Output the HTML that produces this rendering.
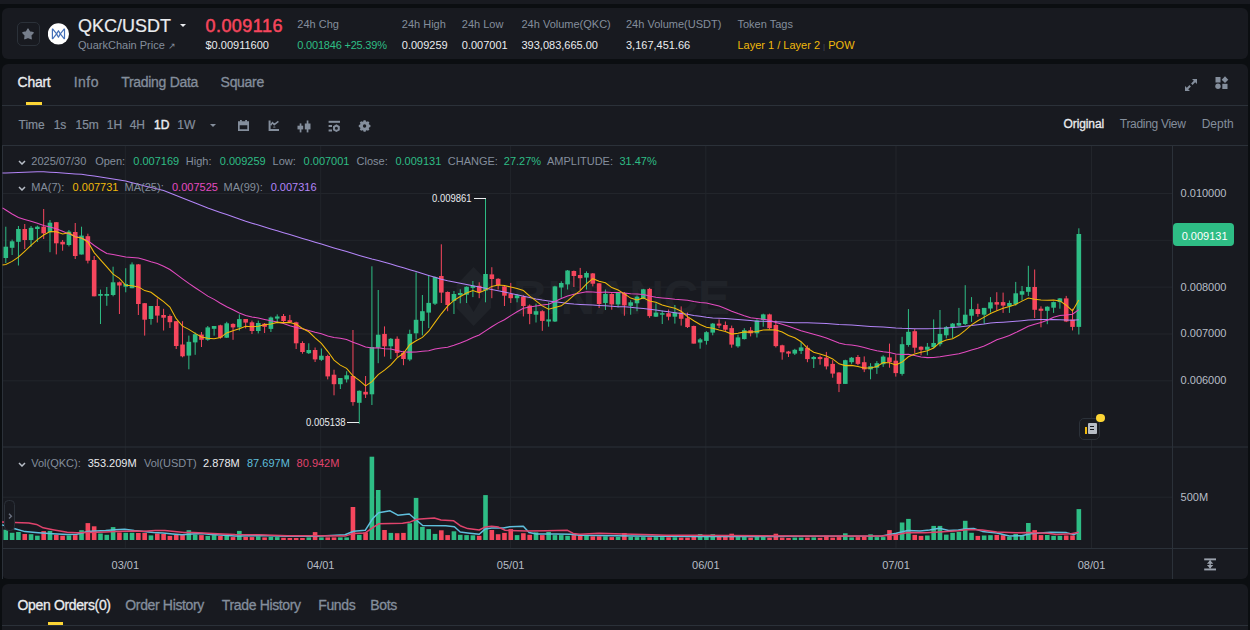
<!DOCTYPE html>
<html><head><meta charset="utf-8"><style>
html,body{margin:0;padding:0}
body{width:1250px;height:630px;overflow:hidden;position:relative;background:#0b0e11;font-family:"Liberation Sans",sans-serif}
.panel{position:absolute;background:#181a20;border-radius:6px}
.t{position:absolute;line-height:1;white-space:nowrap}
</style></head><body>
<div style="position:absolute;left:0;top:0;width:1250px;height:4px;background:#181a20"></div>
<div class="panel" style="left:2px;top:8px;width:1246px;height:51px"></div>
<div style="position:absolute;left:17px;top:22px;width:21px;height:22px;border:1px solid #2b3139;border-radius:5px"></div>
<svg style="position:absolute;left:21.3px;top:27px" width="14" height="14" viewBox="0 0 14 14"><polygon points="7.00,2.00 8.73,5.01 12.14,5.73 9.81,8.31 10.17,11.77 7.00,10.35 3.83,11.77 4.19,8.31 1.86,5.73 5.27,5.01" fill="#777f8c" stroke="#777f8c" stroke-width="1.3" stroke-linejoin="round"/></svg>
<svg style="position:absolute;left:48px;top:23px" width="21" height="22" viewBox="0 0 21 22"><circle cx="10.4" cy="10.9" r="10.6" fill="#fff"/><path d="M4.4 5.7V16.1 M16.5 5.7V16.1 M4.4 5.7L8.6 10.9L4.4 16.1 M16.5 5.7L12.3 10.9L16.5 16.1 M10.45 7.7L12.3 10.9L10.45 14.2L8.6 10.9z" stroke="#4470b8" stroke-width="1.2" fill="none" stroke-linejoin="round"/></svg>
<div class="t" style="left:78px;top:16.66px;font-size:18px;color:#eaecef;-webkit-text-stroke:0.2px #eaecef">QKC/USDT</div>
<div style="position:absolute;left:180px;top:24px;width:0;height:0;border-left:3.2px solid transparent;border-right:3.2px solid transparent;border-top:3.6px solid #eaecef"></div>
<div class="t" style="left:205.5px;top:16.66px;font-size:18px;color:#f6465d;-webkit-text-stroke:0.5px #f6465d;letter-spacing:0.45px">0.009116</div>
<div class="t" style="left:78px;top:39.87px;font-size:11px;color:#848e9c;">QuarkChain Price <span style="font-size:9px">&#8599;</span></div>
<div class="t" style="left:205.5px;top:39.87px;font-size:11px;color:#eaecef;">$0.00911600</div>
<div class="t" style="left:297.3px;top:18.57px;font-size:11px;color:#848e9c;">24h Chg</div>
<div class="t" style="left:297.3px;top:39.67px;font-size:11px;color:#2ebd85;"><span style="letter-spacing:-0.2px">0.001846 +25.39%</span></div>
<div class="t" style="left:401.8px;top:18.57px;font-size:11px;color:#848e9c;">24h High</div>
<div class="t" style="left:401.8px;top:39.67px;font-size:11px;color:#eaecef;">0.009259</div>
<div class="t" style="left:461.8px;top:18.57px;font-size:11px;color:#848e9c;">24h Low</div>
<div class="t" style="left:461.8px;top:39.67px;font-size:11px;color:#eaecef;">0.007001</div>
<div class="t" style="left:521.5px;top:18.57px;font-size:11px;color:#848e9c;">24h Volume(QKC)</div>
<div class="t" style="left:521.5px;top:39.67px;font-size:11px;color:#eaecef;">393,083,665.00</div>
<div class="t" style="left:626px;top:18.57px;font-size:11px;color:#848e9c;">24h Volume(USDT)</div>
<div class="t" style="left:626px;top:39.67px;font-size:11px;color:#eaecef;">3,167,451.66</div>
<div class="t" style="left:737.5px;top:18.57px;font-size:11px;color:#848e9c;">Token Tags</div>
<div class="t" style="left:737.5px;top:39.67px;font-size:11px;color:#f0b90b;">Layer 1 / Layer 2 <span style="color:#474d57;font-size:8px">|</span> POW</div>
<div class="panel" style="left:2px;top:64px;width:1246px;height:515px"></div>
<div class="t" style="left:17.6px;top:74.68px;font-size:14px;color:#eaecef;-webkit-text-stroke:0.3px #eaecef;letter-spacing:-0.3px">Chart</div>
<div class="t" style="left:73.7px;top:74.68px;font-size:14px;color:#848e9c;-webkit-text-stroke:0.3px #848e9c;letter-spacing:0.5px">Info</div>
<div class="t" style="left:121.2px;top:74.68px;font-size:14px;color:#848e9c;-webkit-text-stroke:0.3px #848e9c;letter-spacing:-0.3px">Trading Data</div>
<div class="t" style="left:220.6px;top:74.68px;font-size:14px;color:#848e9c;-webkit-text-stroke:0.3px #848e9c;letter-spacing:-0.3px">Square</div>
<div style="position:absolute;left:26px;top:102px;width:16px;height:3px;background:#fcd535"></div>
<div style="position:absolute;left:2px;top:105px;width:1246px;height:1px;background:#2b3139"></div>
<svg style="position:absolute;left:1184px;top:78px" width="14" height="14" viewBox="0 0 14 14"><path d="M8 1h5v5l-1.8-1.8-2.7 2.7-1.4-1.4 2.7-2.7z M6 13H1V8l1.8 1.8 2.7-2.7 1.4 1.4-2.7 2.7z" fill="#848e9c"/></svg>
<svg style="position:absolute;left:1215px;top:76px" width="14" height="14" viewBox="0 0 14 14"><rect x="0.5" y="1" width="5" height="5.5" fill="#848e9c"/><path d="M10 0.3l3.3 3.4-3.3 3.4-3.3-3.4z" fill="#848e9c"/><circle cx="3" cy="10.3" r="2.7" fill="#848e9c"/><rect x="7.3" y="7.8" width="5.2" height="5.2" fill="#848e9c"/></svg>
<div class="t" style="left:18.5px;top:119.44px;font-size:12px;color:#848e9c;-webkit-text-stroke:0.2px #848e9c">Time</div>
<div class="t" style="left:53.7px;top:119.44px;font-size:12px;color:#848e9c;-webkit-text-stroke:0.2px #848e9c">1s</div>
<div class="t" style="left:75.5px;top:119.44px;font-size:12px;color:#848e9c;-webkit-text-stroke:0.2px #848e9c">15m</div>
<div class="t" style="left:106.8px;top:119.44px;font-size:12px;color:#848e9c;-webkit-text-stroke:0.2px #848e9c">1H</div>
<div class="t" style="left:129.7px;top:119.44px;font-size:12px;color:#848e9c;-webkit-text-stroke:0.2px #848e9c">4H</div>
<div class="t" style="left:154px;top:119.44px;font-size:12px;color:#eaecef;-webkit-text-stroke:0.45px #eaecef">1D</div>
<div class="t" style="left:177.3px;top:119.44px;font-size:12px;color:#848e9c;-webkit-text-stroke:0.2px #848e9c">1W</div>
<div style="position:absolute;left:209.8px;top:124px;width:0;height:0;border-left:3.3px solid transparent;border-right:3.3px solid transparent;border-top:3.8px solid #848e9c"></div>

<svg style="position:absolute;left:238px;top:120px" width="11" height="11" viewBox="0 0 11 11" fill="#848e9c"><rect x="2" y="0" width="1.8" height="1.8"/><rect x="7.2" y="0" width="1.8" height="1.8"/><path fill-rule="evenodd" d="M0 1.2h11V11H0z M1.7 5.2v4.1h7.6V5.2z"/></svg>
<svg style="position:absolute;left:268px;top:120px" width="12" height="12" viewBox="0 0 12 12" fill="none" stroke="#848e9c"><path d="M1.6 0.6V10.1H11" stroke-width="2"/><path d="M2.6 5.2L4.5 2.6L6.2 4.6L10.4 1.3" stroke-width="1.5"/><ellipse cx="6.3" cy="7" rx="1.3" ry="0.6" fill="#848e9c" stroke="none"/></svg>
<svg style="position:absolute;left:297px;top:119.5px" width="14" height="13" viewBox="0 0 14 13" fill="#848e9c"><rect x="2.7" y="3.4" width="1.7" height="9"/><rect x="0.5" y="5.7" width="5.7" height="3.7"/><rect x="9.7" y="0.5" width="1.7" height="11.9"/><rect x="7.8" y="3.5" width="5.7" height="5.9"/></svg>
<svg style="position:absolute;left:328px;top:120px" width="13" height="13" viewBox="0 0 13 13" fill="#848e9c"><rect x="0.6" y="0.8" width="11.4" height="2"/><rect x="0.6" y="5" width="3.4" height="2"/><rect x="0.6" y="9.5" width="3.4" height="2"/><path fill-rule="evenodd" d="M8.40,12.10 L5.02,10.15 L5.02,6.25 L8.40,4.30 L11.78,6.25 L11.78,10.15z M9.9,8.2 a1.5,1.5 0 1 0 -3,0 a1.5,1.5 0 1 0 3,0z"/></svg>
<svg style="position:absolute;left:358px;top:120px" width="13" height="13" viewBox="0 0 13 13" fill="#848e9c"><path fill-rule="evenodd" d="M11.09,4.61 L12.41,5.00 L12.41,7.00 L11.09,7.39 L10.76,8.19 L11.42,9.41 L10.01,10.82 L8.79,10.16 L7.99,10.49 L7.60,11.81 L5.60,11.81 L5.21,10.49 L4.41,10.16 L3.19,10.82 L1.78,9.41 L2.44,8.19 L2.11,7.39 L0.79,7.00 L0.79,5.00 L2.11,4.61 L2.44,3.81 L1.78,2.59 L3.19,1.18 L4.41,1.84 L5.21,1.51 L5.60,0.19 L7.60,0.19 L7.99,1.51 L8.79,1.84 L10.01,1.18 L11.42,2.59 L10.76,3.81z M8.299999999999999,6.0 a1.7,1.7 0 1 0 -3.4,0 a1.7,1.7 0 1 0 3.4,0z"/></svg>

<div class="t" style="left:1063.5px;top:118.14px;font-size:12px;color:#eaecef;-webkit-text-stroke:0.3px #eaecef;letter-spacing:-0.1px">Original</div>
<div class="t" style="left:1119.8px;top:118.14px;font-size:12px;color:#848e9c;letter-spacing:-0.3px">Trading View</div>
<div class="t" style="left:1201.7px;top:118.14px;font-size:12px;color:#848e9c;">Depth</div>
<div style="position:absolute;left:2px;top:145px;width:1246px;height:1px;background:#2b3139"></div>
<svg style="position:absolute;left:0;top:0" width="1250" height="630" viewBox="0 0 1250 630"><rect x="3" y="193.0" width="1170" height="1" fill="#22252b"/><rect x="3" y="239.8" width="1170" height="1" fill="#22252b"/><rect x="3" y="286.6" width="1170" height="1" fill="#22252b"/><rect x="3" y="333.5" width="1170" height="1" fill="#22252b"/><rect x="3" y="380.3" width="1170" height="1" fill="#22252b"/><rect x="3" y="496.7" width="1170" height="1" fill="#22252b"/><rect x="124.8" y="146" width="1" height="402" fill="#22252b"/><rect x="320.2" y="146" width="1" height="402" fill="#22252b"/><rect x="510.1" y="146" width="1" height="402" fill="#22252b"/><rect x="705.3" y="146" width="1" height="402" fill="#22252b"/><rect x="895.5" y="146" width="1" height="402" fill="#22252b"/><rect x="1091.0" y="146" width="1" height="402" fill="#22252b"/><g fill="#202329"><path d="M473.6 267 L491 285 V308 L473.6 326 L456.5 308 V285z M473.6 281 L483 296.5 L473.6 312 L464.2 296.5z" fill-rule="evenodd"/><text x="513" y="314" font-family="Liberation Sans" font-weight="bold" font-size="48" textLength="217">BINANCE</text></g><rect x="2" y="145" width="1" height="434" fill="#2b3139"/><rect x="1172" y="146" width="1" height="433" fill="#2b3139"/><rect x="3" y="446.5" width="1245" height="1" fill="#2b3139"/><rect x="3" y="548" width="1245" height="1" fill="#2b3139"/><rect x="5.30" y="226.7" width="1" height="36.3" fill="#2ebd85"/>
<rect x="3.50" y="246.7" width="4.6" height="11.3" fill="#2ebd85"/>
<rect x="11.61" y="239.6" width="1" height="15.4" fill="#2ebd85"/>
<rect x="9.81" y="241.3" width="4.6" height="6.5" fill="#2ebd85"/>
<rect x="17.92" y="226.0" width="1" height="39.5" fill="#2ebd85"/>
<rect x="16.12" y="229.0" width="4.6" height="12.8" fill="#2ebd85"/>
<rect x="24.24" y="224.0" width="1" height="25.0" fill="#f6465d"/>
<rect x="22.44" y="229.0" width="4.6" height="11.0" fill="#f6465d"/>
<rect x="30.55" y="226.0" width="1" height="20.7" fill="#2ebd85"/>
<rect x="28.75" y="227.8" width="4.6" height="12.2" fill="#2ebd85"/>
<rect x="36.86" y="225.6" width="1" height="16.4" fill="#2ebd85"/>
<rect x="35.06" y="226.7" width="4.6" height="2.3" fill="#2ebd85"/>
<rect x="43.17" y="209.0" width="1" height="30.0" fill="#f6465d"/>
<rect x="41.37" y="226.7" width="4.6" height="6.6" fill="#f6465d"/>
<rect x="49.48" y="220.0" width="1" height="32.2" fill="#2ebd85"/>
<rect x="47.68" y="222.7" width="4.6" height="9.5" fill="#2ebd85"/>
<rect x="55.80" y="222.0" width="1" height="32.4" fill="#f6465d"/>
<rect x="54.00" y="222.2" width="4.6" height="21.1" fill="#f6465d"/>
<rect x="62.11" y="240.0" width="1" height="10.7" fill="#f6465d"/>
<rect x="60.31" y="241.8" width="4.6" height="2.6" fill="#f6465d"/>
<rect x="68.42" y="230.0" width="1" height="16.4" fill="#2ebd85"/>
<rect x="66.62" y="231.6" width="4.6" height="13.4" fill="#2ebd85"/>
<rect x="74.73" y="223.0" width="1" height="36.0" fill="#f6465d"/>
<rect x="72.93" y="232.0" width="4.6" height="24.0" fill="#f6465d"/>
<rect x="81.04" y="226.7" width="1" height="27.8" fill="#2ebd85"/>
<rect x="79.24" y="235.6" width="4.6" height="18.9" fill="#2ebd85"/>
<rect x="87.36" y="233.7" width="1" height="29.7" fill="#f6465d"/>
<rect x="85.56" y="236.2" width="4.6" height="24.5" fill="#f6465d"/>
<rect x="93.67" y="256.0" width="1" height="40.3" fill="#f6465d"/>
<rect x="91.87" y="260.0" width="4.6" height="36.3" fill="#f6465d"/>
<rect x="99.98" y="289.6" width="1" height="34.4" fill="#2ebd85"/>
<rect x="98.18" y="294.0" width="4.6" height="1.8" fill="#2ebd85"/>
<rect x="106.29" y="287.0" width="1" height="18.8" fill="#2ebd85"/>
<rect x="104.49" y="294.0" width="4.6" height="1.8" fill="#2ebd85"/>
<rect x="112.60" y="266.7" width="1" height="29.6" fill="#2ebd85"/>
<rect x="110.80" y="282.3" width="4.6" height="12.7" fill="#2ebd85"/>
<rect x="118.92" y="281.5" width="1" height="32.5" fill="#f6465d"/>
<rect x="117.12" y="282.3" width="4.6" height="3.2" fill="#f6465d"/>
<rect x="125.23" y="268.2" width="1" height="24.1" fill="#2ebd85"/>
<rect x="123.43" y="284.0" width="4.6" height="2.7" fill="#2ebd85"/>
<rect x="131.54" y="262.4" width="1" height="25.8" fill="#2ebd85"/>
<rect x="129.74" y="264.4" width="4.6" height="23.8" fill="#2ebd85"/>
<rect x="137.85" y="264.0" width="1" height="51.0" fill="#f6465d"/>
<rect x="136.05" y="264.4" width="4.6" height="39.6" fill="#f6465d"/>
<rect x="144.16" y="303.0" width="1" height="32.6" fill="#f6465d"/>
<rect x="142.36" y="303.2" width="4.6" height="16.5" fill="#f6465d"/>
<rect x="150.48" y="306.0" width="1" height="18.7" fill="#2ebd85"/>
<rect x="148.68" y="306.0" width="4.6" height="13.0" fill="#2ebd85"/>
<rect x="156.79" y="298.5" width="1" height="24.1" fill="#f6465d"/>
<rect x="154.99" y="306.0" width="4.6" height="9.6" fill="#f6465d"/>
<rect x="163.10" y="308.8" width="1" height="21.7" fill="#f6465d"/>
<rect x="161.30" y="315.0" width="4.6" height="2.7" fill="#f6465d"/>
<rect x="169.41" y="314.4" width="1" height="13.6" fill="#f6465d"/>
<rect x="167.61" y="316.0" width="4.6" height="6.2" fill="#f6465d"/>
<rect x="175.72" y="321.0" width="1" height="28.0" fill="#f6465d"/>
<rect x="173.92" y="321.2" width="4.6" height="24.8" fill="#f6465d"/>
<rect x="182.04" y="321.2" width="1" height="36.1" fill="#f6465d"/>
<rect x="180.24" y="344.5" width="4.6" height="11.8" fill="#f6465d"/>
<rect x="188.35" y="335.6" width="1" height="33.7" fill="#2ebd85"/>
<rect x="186.55" y="341.8" width="4.6" height="13.8" fill="#2ebd85"/>
<rect x="194.66" y="332.5" width="1" height="22.3" fill="#2ebd85"/>
<rect x="192.86" y="334.2" width="4.6" height="8.2" fill="#2ebd85"/>
<rect x="200.97" y="332.0" width="1" height="15.0" fill="#f6465d"/>
<rect x="199.17" y="334.6" width="4.6" height="5.2" fill="#f6465d"/>
<rect x="207.28" y="326.0" width="1" height="14.8" fill="#2ebd85"/>
<rect x="205.48" y="327.4" width="4.6" height="12.4" fill="#2ebd85"/>
<rect x="213.60" y="326.0" width="1" height="9.6" fill="#2ebd85"/>
<rect x="211.80" y="326.0" width="4.6" height="2.8" fill="#2ebd85"/>
<rect x="219.91" y="324.7" width="1" height="14.0" fill="#f6465d"/>
<rect x="218.11" y="325.3" width="4.6" height="12.4" fill="#f6465d"/>
<rect x="226.22" y="321.8" width="1" height="16.2" fill="#2ebd85"/>
<rect x="224.42" y="323.3" width="4.6" height="14.4" fill="#2ebd85"/>
<rect x="232.53" y="323.3" width="1" height="16.5" fill="#f6465d"/>
<rect x="230.73" y="323.9" width="4.6" height="3.5" fill="#f6465d"/>
<rect x="238.84" y="314.4" width="1" height="16.1" fill="#2ebd85"/>
<rect x="237.04" y="319.1" width="4.6" height="8.3" fill="#2ebd85"/>
<rect x="245.16" y="319.0" width="1" height="9.4" fill="#f6465d"/>
<rect x="243.36" y="319.0" width="4.6" height="3.6" fill="#f6465d"/>
<rect x="251.47" y="320.6" width="1" height="13.4" fill="#f6465d"/>
<rect x="249.67" y="322.3" width="4.6" height="8.7" fill="#f6465d"/>
<rect x="257.78" y="320.6" width="1" height="12.8" fill="#2ebd85"/>
<rect x="255.98" y="323.0" width="4.6" height="8.0" fill="#2ebd85"/>
<rect x="264.09" y="323.0" width="1" height="10.0" fill="#f6465d"/>
<rect x="262.29" y="323.7" width="4.6" height="3.1" fill="#f6465d"/>
<rect x="270.40" y="316.5" width="1" height="15.5" fill="#2ebd85"/>
<rect x="268.60" y="317.5" width="4.6" height="11.4" fill="#2ebd85"/>
<rect x="276.72" y="314.4" width="1" height="8.7" fill="#2ebd85"/>
<rect x="274.92" y="316.5" width="4.6" height="2.1" fill="#2ebd85"/>
<rect x="283.03" y="314.0" width="1" height="8.7" fill="#f6465d"/>
<rect x="281.23" y="316.0" width="4.6" height="5.0" fill="#f6465d"/>
<rect x="289.34" y="314.9" width="1" height="7.4" fill="#f6465d"/>
<rect x="287.54" y="320.2" width="4.6" height="2.1" fill="#f6465d"/>
<rect x="295.65" y="321.7" width="1" height="27.3" fill="#f6465d"/>
<rect x="293.85" y="322.3" width="4.6" height="21.0" fill="#f6465d"/>
<rect x="301.96" y="341.3" width="1" height="12.4" fill="#f6465d"/>
<rect x="300.16" y="343.0" width="4.6" height="9.0" fill="#f6465d"/>
<rect x="308.28" y="343.3" width="1" height="10.7" fill="#2ebd85"/>
<rect x="306.48" y="350.0" width="4.6" height="3.2" fill="#2ebd85"/>
<rect x="314.59" y="347.5" width="1" height="14.5" fill="#f6465d"/>
<rect x="312.79" y="350.0" width="4.6" height="9.4" fill="#f6465d"/>
<rect x="320.90" y="348.5" width="1" height="12.4" fill="#2ebd85"/>
<rect x="319.10" y="355.7" width="4.6" height="4.1" fill="#2ebd85"/>
<rect x="327.21" y="354.7" width="1" height="24.7" fill="#f6465d"/>
<rect x="325.41" y="356.0" width="4.6" height="20.4" fill="#f6465d"/>
<rect x="333.52" y="369.7" width="1" height="25.6" fill="#f6465d"/>
<rect x="331.72" y="374.7" width="4.6" height="9.5" fill="#f6465d"/>
<rect x="339.84" y="378.0" width="1" height="11.0" fill="#2ebd85"/>
<rect x="338.04" y="378.0" width="4.6" height="6.2" fill="#2ebd85"/>
<rect x="346.15" y="371.2" width="1" height="11.3" fill="#2ebd85"/>
<rect x="344.35" y="375.3" width="4.6" height="4.1" fill="#2ebd85"/>
<rect x="352.46" y="330.0" width="1" height="75.7" fill="#f6465d"/>
<rect x="350.66" y="376.0" width="4.6" height="26.1" fill="#f6465d"/>
<rect x="358.77" y="390.4" width="1" height="33.4" fill="#2ebd85"/>
<rect x="356.97" y="390.8" width="4.6" height="12.0" fill="#2ebd85"/>
<rect x="365.08" y="376.0" width="1" height="22.0" fill="#f6465d"/>
<rect x="363.28" y="391.8" width="4.6" height="2.7" fill="#f6465d"/>
<rect x="371.40" y="266.3" width="1" height="138.7" fill="#2ebd85"/>
<rect x="369.60" y="347.0" width="4.6" height="47.3" fill="#2ebd85"/>
<rect x="377.71" y="290.0" width="1" height="73.2" fill="#2ebd85"/>
<rect x="375.91" y="334.7" width="4.6" height="13.0" fill="#2ebd85"/>
<rect x="384.02" y="326.4" width="1" height="30.2" fill="#f6465d"/>
<rect x="382.22" y="333.9" width="4.6" height="12.4" fill="#f6465d"/>
<rect x="390.33" y="338.0" width="1" height="21.0" fill="#2ebd85"/>
<rect x="388.53" y="338.8" width="4.6" height="7.5" fill="#2ebd85"/>
<rect x="396.64" y="336.4" width="1" height="20.6" fill="#f6465d"/>
<rect x="394.84" y="338.8" width="4.6" height="14.1" fill="#f6465d"/>
<rect x="402.96" y="350.8" width="1" height="14.4" fill="#f6465d"/>
<rect x="401.16" y="352.9" width="4.6" height="6.1" fill="#f6465d"/>
<rect x="409.27" y="329.7" width="1" height="31.4" fill="#2ebd85"/>
<rect x="407.47" y="333.9" width="4.6" height="25.6" fill="#2ebd85"/>
<rect x="415.58" y="272.4" width="1" height="67.0" fill="#2ebd85"/>
<rect x="413.78" y="319.8" width="4.6" height="13.5" fill="#2ebd85"/>
<rect x="421.89" y="295.0" width="1" height="40.3" fill="#2ebd85"/>
<rect x="420.09" y="311.2" width="4.6" height="9.7" fill="#2ebd85"/>
<rect x="428.20" y="275.5" width="1" height="52.6" fill="#2ebd85"/>
<rect x="426.40" y="302.9" width="4.6" height="9.7" fill="#2ebd85"/>
<rect x="434.52" y="276.5" width="1" height="28.5" fill="#2ebd85"/>
<rect x="432.72" y="277.0" width="4.6" height="26.7" fill="#2ebd85"/>
<rect x="440.83" y="244.3" width="1" height="58.7" fill="#f6465d"/>
<rect x="439.03" y="276.0" width="4.6" height="16.6" fill="#f6465d"/>
<rect x="447.14" y="291.4" width="1" height="19.8" fill="#f6465d"/>
<rect x="445.34" y="292.0" width="4.6" height="13.0" fill="#f6465d"/>
<rect x="453.45" y="291.0" width="1" height="23.0" fill="#2ebd85"/>
<rect x="451.65" y="294.0" width="4.6" height="6.9" fill="#2ebd85"/>
<rect x="459.76" y="289.3" width="1" height="14.0" fill="#2ebd85"/>
<rect x="457.96" y="293.0" width="4.6" height="2.0" fill="#2ebd85"/>
<rect x="466.08" y="286.4" width="1" height="16.6" fill="#2ebd85"/>
<rect x="464.28" y="286.8" width="4.6" height="7.9" fill="#2ebd85"/>
<rect x="472.39" y="281.0" width="1" height="16.1" fill="#2ebd85"/>
<rect x="470.59" y="285.8" width="4.6" height="2.1" fill="#2ebd85"/>
<rect x="478.70" y="282.3" width="1" height="15.9" fill="#f6465d"/>
<rect x="476.90" y="285.8" width="4.6" height="6.2" fill="#f6465d"/>
<rect x="485.01" y="199.0" width="1" height="103.3" fill="#2ebd85"/>
<rect x="483.21" y="274.0" width="4.6" height="16.5" fill="#2ebd85"/>
<rect x="491.32" y="267.2" width="1" height="31.0" fill="#f6465d"/>
<rect x="489.52" y="274.4" width="4.6" height="4.6" fill="#f6465d"/>
<rect x="497.64" y="278.2" width="1" height="11.3" fill="#f6465d"/>
<rect x="495.84" y="278.8" width="4.6" height="6.2" fill="#f6465d"/>
<rect x="503.95" y="285.8" width="1" height="20.2" fill="#f6465d"/>
<rect x="502.15" y="286.4" width="4.6" height="9.3" fill="#f6465d"/>
<rect x="510.26" y="282.9" width="1" height="20.1" fill="#f6465d"/>
<rect x="508.46" y="294.0" width="4.6" height="4.2" fill="#f6465d"/>
<rect x="516.57" y="294.0" width="1" height="8.3" fill="#2ebd85"/>
<rect x="514.77" y="295.3" width="4.6" height="2.9" fill="#2ebd85"/>
<rect x="522.88" y="295.3" width="1" height="21.1" fill="#f6465d"/>
<rect x="521.08" y="296.7" width="4.6" height="9.3" fill="#f6465d"/>
<rect x="529.20" y="304.4" width="1" height="19.8" fill="#f6465d"/>
<rect x="527.40" y="305.6" width="4.6" height="8.3" fill="#f6465d"/>
<rect x="535.51" y="303.6" width="1" height="18.9" fill="#2ebd85"/>
<rect x="533.71" y="311.2" width="4.6" height="3.5" fill="#2ebd85"/>
<rect x="541.82" y="310.2" width="1" height="20.6" fill="#f6465d"/>
<rect x="540.02" y="311.2" width="4.6" height="9.7" fill="#f6465d"/>
<rect x="548.13" y="302.3" width="1" height="24.4" fill="#2ebd85"/>
<rect x="546.33" y="319.4" width="4.6" height="2.1" fill="#2ebd85"/>
<rect x="554.44" y="285.8" width="1" height="36.2" fill="#2ebd85"/>
<rect x="552.64" y="286.4" width="4.6" height="35.1" fill="#2ebd85"/>
<rect x="560.76" y="281.3" width="1" height="16.5" fill="#2ebd85"/>
<rect x="558.96" y="283.0" width="4.6" height="4.5" fill="#2ebd85"/>
<rect x="567.07" y="270.0" width="1" height="19.5" fill="#2ebd85"/>
<rect x="565.27" y="270.5" width="4.6" height="13.9" fill="#2ebd85"/>
<rect x="573.38" y="270.5" width="1" height="16.5" fill="#f6465d"/>
<rect x="571.58" y="271.0" width="4.6" height="5.0" fill="#f6465d"/>
<rect x="579.69" y="267.9" width="1" height="22.7" fill="#f6465d"/>
<rect x="577.89" y="275.0" width="4.6" height="3.2" fill="#f6465d"/>
<rect x="586.00" y="271.4" width="1" height="18.1" fill="#2ebd85"/>
<rect x="584.20" y="273.0" width="4.6" height="4.6" fill="#2ebd85"/>
<rect x="592.32" y="273.0" width="1" height="13.4" fill="#f6465d"/>
<rect x="590.52" y="273.4" width="4.6" height="10.3" fill="#f6465d"/>
<rect x="598.63" y="282.9" width="1" height="25.1" fill="#f6465d"/>
<rect x="596.83" y="283.3" width="4.6" height="20.7" fill="#f6465d"/>
<rect x="604.94" y="289.5" width="1" height="20.5" fill="#2ebd85"/>
<rect x="603.14" y="294.0" width="4.6" height="9.0" fill="#2ebd85"/>
<rect x="611.25" y="293.2" width="1" height="16.5" fill="#f6465d"/>
<rect x="609.45" y="294.0" width="4.6" height="10.4" fill="#f6465d"/>
<rect x="617.56" y="292.0" width="1" height="15.5" fill="#2ebd85"/>
<rect x="615.76" y="293.0" width="4.6" height="11.4" fill="#2ebd85"/>
<rect x="623.88" y="292.0" width="1" height="23.7" fill="#f6465d"/>
<rect x="622.08" y="293.0" width="4.6" height="12.4" fill="#f6465d"/>
<rect x="630.19" y="300.2" width="1" height="14.5" fill="#2ebd85"/>
<rect x="628.39" y="302.3" width="4.6" height="3.5" fill="#2ebd85"/>
<rect x="636.50" y="295.5" width="1" height="15.7" fill="#2ebd85"/>
<rect x="634.70" y="296.7" width="4.6" height="6.6" fill="#2ebd85"/>
<rect x="642.81" y="288.9" width="1" height="10.3" fill="#2ebd85"/>
<rect x="641.01" y="289.3" width="4.6" height="8.9" fill="#2ebd85"/>
<rect x="649.12" y="287.9" width="1" height="29.9" fill="#f6465d"/>
<rect x="647.32" y="288.9" width="4.6" height="27.2" fill="#f6465d"/>
<rect x="655.44" y="303.3" width="1" height="13.7" fill="#2ebd85"/>
<rect x="653.64" y="312.6" width="4.6" height="4.1" fill="#2ebd85"/>
<rect x="661.75" y="310.6" width="1" height="13.4" fill="#2ebd85"/>
<rect x="659.95" y="313.2" width="4.6" height="1.5" fill="#2ebd85"/>
<rect x="668.06" y="309.5" width="1" height="10.8" fill="#f6465d"/>
<rect x="666.26" y="313.2" width="4.6" height="3.5" fill="#f6465d"/>
<rect x="674.37" y="305.0" width="1" height="18.6" fill="#2ebd85"/>
<rect x="672.57" y="312.6" width="4.6" height="4.1" fill="#2ebd85"/>
<rect x="680.68" y="306.4" width="1" height="19.2" fill="#f6465d"/>
<rect x="678.88" y="312.6" width="4.6" height="6.2" fill="#f6465d"/>
<rect x="687.00" y="312.6" width="1" height="15.4" fill="#f6465d"/>
<rect x="685.20" y="318.2" width="4.6" height="8.9" fill="#f6465d"/>
<rect x="693.31" y="325.6" width="1" height="18.0" fill="#f6465d"/>
<rect x="691.51" y="326.0" width="4.6" height="17.6" fill="#f6465d"/>
<rect x="699.62" y="338.0" width="1" height="10.7" fill="#2ebd85"/>
<rect x="697.82" y="339.4" width="4.6" height="3.1" fill="#2ebd85"/>
<rect x="705.93" y="331.2" width="1" height="13.4" fill="#2ebd85"/>
<rect x="704.13" y="332.2" width="4.6" height="8.7" fill="#2ebd85"/>
<rect x="712.24" y="323.0" width="1" height="12.3" fill="#2ebd85"/>
<rect x="710.44" y="323.6" width="4.6" height="9.0" fill="#2ebd85"/>
<rect x="718.56" y="319.4" width="1" height="8.6" fill="#f6465d"/>
<rect x="716.76" y="323.6" width="4.6" height="2.0" fill="#f6465d"/>
<rect x="724.87" y="321.5" width="1" height="9.7" fill="#f6465d"/>
<rect x="723.07" y="325.0" width="4.6" height="4.7" fill="#f6465d"/>
<rect x="731.18" y="325.6" width="1" height="22.1" fill="#f6465d"/>
<rect x="729.38" y="328.1" width="4.6" height="16.5" fill="#f6465d"/>
<rect x="737.49" y="334.7" width="1" height="13.0" fill="#2ebd85"/>
<rect x="735.69" y="337.4" width="4.6" height="8.9" fill="#2ebd85"/>
<rect x="743.80" y="328.2" width="1" height="11.3" fill="#2ebd85"/>
<rect x="742.00" y="330.2" width="4.6" height="8.9" fill="#2ebd85"/>
<rect x="750.12" y="327.1" width="1" height="9.3" fill="#f6465d"/>
<rect x="748.32" y="330.2" width="4.6" height="3.1" fill="#f6465d"/>
<rect x="756.43" y="319.3" width="1" height="18.2" fill="#2ebd85"/>
<rect x="754.63" y="320.5" width="4.6" height="12.8" fill="#2ebd85"/>
<rect x="762.74" y="313.7" width="1" height="13.0" fill="#2ebd85"/>
<rect x="760.94" y="314.4" width="4.6" height="5.5" fill="#2ebd85"/>
<rect x="769.05" y="313.7" width="1" height="15.5" fill="#f6465d"/>
<rect x="767.25" y="314.4" width="4.6" height="13.8" fill="#f6465d"/>
<rect x="775.36" y="320.5" width="1" height="26.9" fill="#f6465d"/>
<rect x="773.56" y="325.0" width="4.6" height="21.1" fill="#f6465d"/>
<rect x="781.68" y="344.7" width="1" height="15.0" fill="#f6465d"/>
<rect x="779.88" y="345.3" width="4.6" height="7.0" fill="#f6465d"/>
<rect x="787.99" y="350.9" width="1" height="6.1" fill="#f6465d"/>
<rect x="786.19" y="351.5" width="4.6" height="2.1" fill="#f6465d"/>
<rect x="794.30" y="348.8" width="1" height="6.2" fill="#2ebd85"/>
<rect x="792.50" y="349.8" width="4.6" height="3.8" fill="#2ebd85"/>
<rect x="800.61" y="342.0" width="1" height="12.0" fill="#2ebd85"/>
<rect x="798.81" y="347.4" width="4.6" height="3.5" fill="#2ebd85"/>
<rect x="806.92" y="345.3" width="1" height="16.9" fill="#f6465d"/>
<rect x="805.12" y="347.8" width="4.6" height="11.3" fill="#f6465d"/>
<rect x="813.24" y="356.0" width="1" height="12.0" fill="#2ebd85"/>
<rect x="811.44" y="357.0" width="4.6" height="2.1" fill="#2ebd85"/>
<rect x="819.55" y="355.6" width="1" height="9.1" fill="#f6465d"/>
<rect x="817.75" y="357.0" width="4.6" height="2.1" fill="#f6465d"/>
<rect x="825.86" y="351.9" width="1" height="17.5" fill="#f6465d"/>
<rect x="824.06" y="357.7" width="4.6" height="8.7" fill="#f6465d"/>
<rect x="832.17" y="360.2" width="1" height="17.5" fill="#f6465d"/>
<rect x="830.37" y="363.9" width="4.6" height="9.7" fill="#f6465d"/>
<rect x="838.48" y="372.1" width="1" height="20.0" fill="#f6465d"/>
<rect x="836.68" y="372.5" width="4.6" height="11.4" fill="#f6465d"/>
<rect x="844.80" y="359.7" width="1" height="24.3" fill="#2ebd85"/>
<rect x="843.00" y="360.2" width="4.6" height="23.7" fill="#2ebd85"/>
<rect x="851.11" y="357.0" width="1" height="6.9" fill="#2ebd85"/>
<rect x="849.31" y="357.7" width="4.6" height="4.5" fill="#2ebd85"/>
<rect x="857.42" y="355.0" width="1" height="10.3" fill="#f6465d"/>
<rect x="855.62" y="357.0" width="4.6" height="6.9" fill="#f6465d"/>
<rect x="863.73" y="356.4" width="1" height="15.7" fill="#f6465d"/>
<rect x="861.93" y="362.2" width="4.6" height="7.2" fill="#f6465d"/>
<rect x="870.04" y="363.2" width="1" height="16.1" fill="#2ebd85"/>
<rect x="868.24" y="366.3" width="4.6" height="3.1" fill="#2ebd85"/>
<rect x="876.36" y="361.1" width="1" height="12.8" fill="#2ebd85"/>
<rect x="874.56" y="363.2" width="4.6" height="4.5" fill="#2ebd85"/>
<rect x="882.67" y="355.3" width="1" height="11.6" fill="#2ebd85"/>
<rect x="880.87" y="356.6" width="4.6" height="7.6" fill="#2ebd85"/>
<rect x="888.98" y="343.6" width="1" height="24.1" fill="#f6465d"/>
<rect x="887.18" y="357.4" width="4.6" height="4.7" fill="#f6465d"/>
<rect x="895.29" y="354.5" width="1" height="22.1" fill="#f6465d"/>
<rect x="893.49" y="360.7" width="4.6" height="12.4" fill="#f6465d"/>
<rect x="901.60" y="336.8" width="1" height="38.8" fill="#2ebd85"/>
<rect x="899.80" y="344.2" width="4.6" height="29.7" fill="#2ebd85"/>
<rect x="907.92" y="309.1" width="1" height="37.6" fill="#2ebd85"/>
<rect x="906.12" y="331.8" width="4.6" height="13.2" fill="#2ebd85"/>
<rect x="914.23" y="329.1" width="1" height="23.8" fill="#f6465d"/>
<rect x="912.43" y="331.2" width="4.6" height="16.5" fill="#f6465d"/>
<rect x="920.54" y="346.3" width="1" height="9.0" fill="#f6465d"/>
<rect x="918.74" y="346.7" width="4.6" height="3.1" fill="#f6465d"/>
<rect x="926.85" y="343.0" width="1" height="12.3" fill="#2ebd85"/>
<rect x="925.05" y="346.7" width="4.6" height="3.1" fill="#2ebd85"/>
<rect x="933.16" y="319.4" width="1" height="28.9" fill="#2ebd85"/>
<rect x="931.36" y="343.0" width="4.6" height="4.1" fill="#2ebd85"/>
<rect x="939.48" y="310.0" width="1" height="36.3" fill="#2ebd85"/>
<rect x="937.68" y="333.9" width="4.6" height="10.3" fill="#2ebd85"/>
<rect x="945.79" y="326.0" width="1" height="12.4" fill="#2ebd85"/>
<rect x="943.99" y="327.1" width="4.6" height="8.2" fill="#2ebd85"/>
<rect x="952.10" y="323.0" width="1" height="15.0" fill="#2ebd85"/>
<rect x="950.30" y="323.6" width="4.6" height="3.5" fill="#2ebd85"/>
<rect x="958.41" y="307.9" width="1" height="18.5" fill="#2ebd85"/>
<rect x="956.61" y="323.0" width="4.6" height="2.6" fill="#2ebd85"/>
<rect x="964.72" y="285.2" width="1" height="39.8" fill="#2ebd85"/>
<rect x="962.92" y="314.7" width="4.6" height="9.3" fill="#2ebd85"/>
<rect x="971.04" y="297.1" width="1" height="24.8" fill="#2ebd85"/>
<rect x="969.24" y="309.1" width="4.6" height="6.6" fill="#2ebd85"/>
<rect x="977.35" y="303.7" width="1" height="13.0" fill="#f6465d"/>
<rect x="975.55" y="309.1" width="4.6" height="4.9" fill="#f6465d"/>
<rect x="983.66" y="307.9" width="1" height="16.1" fill="#2ebd85"/>
<rect x="981.86" y="307.9" width="4.6" height="6.8" fill="#2ebd85"/>
<rect x="989.97" y="297.1" width="1" height="15.5" fill="#2ebd85"/>
<rect x="988.17" y="302.3" width="4.6" height="6.2" fill="#2ebd85"/>
<rect x="996.28" y="292.2" width="1" height="18.2" fill="#f6465d"/>
<rect x="994.48" y="302.1" width="4.6" height="2.5" fill="#f6465d"/>
<rect x="1002.60" y="292.6" width="1" height="20.3" fill="#f6465d"/>
<rect x="1000.80" y="302.1" width="4.6" height="3.5" fill="#f6465d"/>
<rect x="1008.91" y="300.5" width="1" height="12.4" fill="#2ebd85"/>
<rect x="1007.11" y="303.0" width="4.6" height="3.3" fill="#2ebd85"/>
<rect x="1015.22" y="281.9" width="1" height="23.7" fill="#2ebd85"/>
<rect x="1013.42" y="293.3" width="4.6" height="10.9" fill="#2ebd85"/>
<rect x="1021.53" y="286.0" width="1" height="14.5" fill="#2ebd85"/>
<rect x="1019.73" y="291.2" width="4.6" height="3.5" fill="#2ebd85"/>
<rect x="1027.84" y="265.8" width="1" height="30.2" fill="#2ebd85"/>
<rect x="1026.04" y="287.0" width="4.6" height="4.8" fill="#2ebd85"/>
<rect x="1034.16" y="269.5" width="1" height="48.5" fill="#f6465d"/>
<rect x="1032.36" y="287.0" width="4.6" height="22.8" fill="#f6465d"/>
<rect x="1040.47" y="306.3" width="1" height="21.0" fill="#f6465d"/>
<rect x="1038.67" y="308.7" width="4.6" height="2.1" fill="#f6465d"/>
<rect x="1046.78" y="306.3" width="1" height="17.9" fill="#2ebd85"/>
<rect x="1044.98" y="306.7" width="4.6" height="4.1" fill="#2ebd85"/>
<rect x="1053.09" y="301.5" width="1" height="11.4" fill="#2ebd85"/>
<rect x="1051.29" y="302.1" width="4.6" height="5.6" fill="#2ebd85"/>
<rect x="1059.40" y="298.0" width="1" height="10.7" fill="#2ebd85"/>
<rect x="1057.60" y="298.4" width="4.6" height="3.7" fill="#2ebd85"/>
<rect x="1065.72" y="295.9" width="1" height="26.2" fill="#f6465d"/>
<rect x="1063.92" y="298.4" width="4.6" height="23.1" fill="#f6465d"/>
<rect x="1072.03" y="308.7" width="1" height="21.7" fill="#f6465d"/>
<rect x="1070.23" y="319.5" width="4.6" height="7.4" fill="#f6465d"/>
<rect x="1078.34" y="228.3" width="1" height="106.2" fill="#2ebd85"/>
<rect x="1076.54" y="234.0" width="4.6" height="92.9" fill="#2ebd85"/><path d="M2.5,173.1 L5.8,173.0 L12.1,172.7 L18.4,172.5 L24.7,172.2 L31.0,172.0 L37.4,171.7 L43.7,171.8 L50.0,172.2 L56.3,172.6 L62.6,173.1 L68.9,173.5 L75.2,173.9 L81.5,174.3 L87.9,175.2 L94.2,176.1 L100.5,177.1 L106.8,178.0 L113.1,179.0 L119.4,179.9 L125.7,181.1 L132.0,182.7 L138.4,184.3 L144.7,185.9 L151.0,187.5 L157.3,189.1 L163.6,190.6 L169.9,193.0 L176.2,195.5 L182.5,198.0 L188.8,200.5 L195.2,203.0 L201.5,205.5 L207.8,208.0 L214.1,210.2 L220.4,212.4 L226.7,214.6 L233.0,216.8 L239.3,219.0 L245.7,221.2 L252.0,223.2 L258.3,225.1 L264.6,227.0 L270.9,228.9 L277.2,230.8 L283.5,232.7 L289.8,234.6 L296.2,236.5 L302.5,238.4 L308.8,240.3 L315.1,242.2 L321.4,244.1 L327.7,246.0 L334.0,247.9 L340.3,249.8 L346.6,251.6 L353.0,253.5 L359.3,255.4 L365.6,257.2 L371.9,259.1 L378.2,260.4 L384.5,262.2 L390.8,264.0 L397.1,265.9 L403.5,267.8 L409.8,269.7 L416.1,271.6 L422.4,273.5 L428.7,275.4 L435.0,277.3 L441.3,279.2 L447.6,280.7 L454.0,282.0 L460.3,283.3 L466.6,284.5 L472.9,285.8 L479.2,287.0 L485.5,288.3 L491.8,289.6 L498.1,290.8 L504.4,292.1 L510.8,293.4 L517.1,294.8 L523.4,296.2 L529.7,297.5 L536.0,298.9 L542.3,300.1 L548.6,300.9 L554.9,301.8 L561.3,302.6 L567.6,303.4 L573.9,304.1 L580.2,304.4 L586.5,304.7 L592.8,305.0 L599.1,305.4 L605.4,305.7 L611.8,306.2 L618.1,306.7 L624.4,306.8 L630.7,307.3 L637.0,307.9 L643.3,308.5 L649.6,309.3 L655.9,310.1 L662.2,311.0 L668.6,311.8 L674.9,312.7 L681.2,313.5 L687.5,314.3 L693.8,315.5 L700.1,316.3 L706.4,317.3 L712.7,317.9 L719.1,318.2 L725.4,318.6 L731.7,319.1 L738.0,319.6 L744.3,320.1 L750.6,320.6 L756.9,321.2 L763.2,321.3 L769.6,321.4 L775.9,321.8 L782.2,322.1 L788.5,322.5 L794.8,322.8 L801.1,322.8 L807.4,322.8 L813.7,323.0 L820.0,323.2 L826.4,323.5 L832.7,324.0 L839.0,324.5 L845.3,324.8 L851.6,325.1 L857.9,325.5 L864.2,326.0 L870.5,326.4 L876.9,326.8 L883.2,327.1 L889.5,327.5 L895.8,328.0 L902.1,328.3 L908.4,328.4 L914.7,328.7 L921.0,328.7 L927.4,328.7 L933.7,328.6 L940.0,328.3 L946.3,328.1 L952.6,327.5 L958.9,326.9 L965.2,326.3 L971.5,325.6 L977.8,324.7 L984.2,323.9 L990.5,322.9 L996.8,322.5 L1003.1,322.2 L1009.4,321.8 L1015.7,321.3 L1022.0,320.7 L1028.3,320.0 L1034.7,319.7 L1041.0,319.6 L1047.3,319.6 L1053.6,319.6 L1059.9,319.8 L1066.2,320.1 L1072.5,320.3 L1078.8,319.7" stroke="#b385f8" stroke-width="1.05" fill="none"/>
<path d="M2.5,207.9 L5.8,210.0 L12.1,214.0 L18.4,217.4 L24.7,219.4 L31.0,221.3 L37.4,223.3 L43.7,225.5 L50.0,227.0 L56.3,228.7 L62.6,231.2 L68.9,233.9 L75.2,236.2 L81.5,238.3 L87.9,240.7 L94.2,245.5 L100.5,249.7 L106.8,253.4 L113.1,254.6 L119.4,255.8 L125.7,257.0 L132.0,257.5 L138.4,258.1 L144.7,259.8 L151.0,261.8 L157.3,263.4 L163.6,266.2 L169.9,269.5 L176.2,274.2 L182.5,278.8 L188.8,283.4 L195.2,287.7 L201.5,291.9 L207.8,296.1 L214.1,299.4 L220.4,303.2 L226.7,306.8 L233.0,309.7 L239.3,313.0 L245.7,315.5 L252.0,316.9 L258.3,318.0 L264.6,319.4 L270.9,320.8 L277.2,322.0 L283.5,323.5 L289.8,325.8 L296.2,327.4 L302.5,328.7 L308.8,330.4 L315.1,332.2 L321.4,333.7 L327.7,335.9 L334.0,337.4 L340.3,338.3 L346.6,339.6 L353.0,342.3 L359.3,344.4 L365.6,347.0 L371.9,347.9 L378.2,347.8 L384.5,348.7 L390.8,349.1 L397.1,350.5 L403.5,351.9 L409.8,352.1 L416.1,351.9 L422.4,351.3 L428.7,350.7 L435.0,349.1 L441.3,348.0 L447.6,347.3 L454.0,345.3 L460.3,343.0 L466.6,340.5 L472.9,337.5 L479.2,335.0 L485.5,330.9 L491.8,326.7 L498.1,322.9 L504.4,319.8 L510.8,315.6 L517.1,311.8 L523.4,308.2 L529.7,306.9 L536.0,306.0 L542.3,305.0 L548.6,304.2 L554.9,301.5 L561.3,298.5 L567.6,295.9 L573.9,294.2 L580.2,292.9 L586.5,291.7 L592.8,291.9 L599.1,292.4 L605.4,292.0 L611.8,292.4 L618.1,292.4 L624.4,293.1 L630.7,293.8 L637.0,294.0 L643.3,294.6 L649.6,296.1 L655.9,297.2 L662.2,297.9 L668.6,298.6 L674.9,299.3 L681.2,299.8 L687.5,300.3 L693.8,301.6 L700.1,302.4 L706.4,302.9 L712.7,304.4 L719.1,306.1 L725.4,308.4 L731.7,311.2 L738.0,313.6 L744.3,315.8 L750.6,317.8 L756.9,318.5 L763.2,319.3 L769.6,320.3 L775.9,322.4 L782.2,324.3 L788.5,326.3 L794.8,328.4 L801.1,330.8 L807.4,332.5 L813.7,334.3 L820.0,336.1 L826.4,338.1 L832.7,340.5 L839.0,343.1 L845.3,344.4 L851.6,345.0 L857.9,346.0 L864.2,347.5 L870.5,349.2 L876.9,350.7 L883.2,351.8 L889.5,352.5 L895.8,353.9 L902.1,354.5 L908.4,354.4 L914.7,355.5 L921.0,356.9 L927.4,357.6 L933.7,357.5 L940.0,356.8 L946.3,355.7 L952.6,354.7 L958.9,353.7 L965.2,351.9 L971.5,350.0 L977.8,348.2 L984.2,345.9 L990.5,343.0 L996.8,339.8 L1003.1,337.7 L1009.4,335.5 L1015.7,332.6 L1022.0,329.5 L1028.3,326.3 L1034.7,324.2 L1041.0,322.4 L1047.3,320.2 L1053.6,317.3 L1059.9,315.5 L1066.2,315.1 L1072.5,314.2 L1078.8,309.6" stroke="#e44bc0" stroke-width="1.05" fill="none"/>
<path d="M2.5,265.0 L5.8,264.4 L12.1,261.4 L18.4,257.1 L24.7,251.3 L31.0,245.4 L37.4,239.7 L43.7,235.0 L50.0,231.5 L56.3,231.8 L62.6,234.0 L68.9,232.8 L75.2,236.9 L81.5,238.1 L87.9,242.0 L94.2,252.6 L100.5,259.8 L106.8,266.9 L113.1,274.1 L119.4,278.3 L125.7,285.3 L132.0,285.8 L138.4,286.9 L144.7,290.6 L151.0,292.3 L157.3,297.0 L163.6,301.6 L169.9,307.1 L176.2,318.7 L182.5,326.2 L188.8,329.4 L195.2,333.4 L201.5,336.9 L207.8,338.2 L214.1,338.8 L220.4,337.6 L226.7,332.9 L233.0,330.8 L239.3,328.7 L245.7,326.2 L252.0,326.7 L258.3,326.3 L264.6,324.7 L270.9,323.9 L277.2,322.4 L283.5,322.6 L289.8,322.6 L296.2,324.3 L302.5,328.5 L308.8,331.8 L315.1,337.8 L321.4,343.4 L327.7,351.3 L334.0,360.1 L340.3,365.1 L346.6,368.4 L353.0,375.9 L359.3,380.4 L365.6,385.9 L371.9,381.7 L378.2,374.6 L384.5,370.1 L390.8,364.9 L397.1,357.9 L403.5,353.3 L409.8,344.7 L416.1,340.8 L422.4,337.4 L428.7,331.2 L435.0,322.4 L441.3,313.8 L447.6,306.1 L454.0,300.4 L460.3,296.5 L466.6,293.0 L472.9,290.6 L479.2,292.7 L485.5,290.1 L491.8,286.4 L498.1,285.1 L504.4,285.5 L510.8,287.1 L517.1,288.5 L523.4,290.5 L529.7,296.2 L536.0,300.8 L542.3,305.9 L548.6,309.3 L554.9,307.6 L561.3,305.8 L567.6,300.8 L573.9,295.3 L580.2,290.6 L586.5,283.8 L592.8,278.7 L599.1,281.2 L605.4,282.8 L611.8,287.6 L618.1,290.0 L624.4,293.9 L630.7,298.1 L637.0,300.0 L643.3,297.9 L649.6,301.0 L655.9,302.2 L662.2,305.1 L668.6,306.7 L674.9,308.2 L681.2,311.3 L687.5,316.7 L693.8,320.7 L700.1,324.5 L706.4,327.2 L712.7,328.2 L719.1,330.0 L725.4,331.6 L731.7,334.1 L738.0,333.2 L744.3,331.9 L750.6,332.1 L756.9,331.6 L763.2,330.0 L769.6,329.8 L775.9,330.0 L782.2,332.1 L788.5,335.5 L794.8,337.8 L801.1,341.7 L807.4,348.1 L813.7,352.2 L820.0,354.0 L826.4,356.1 L832.7,358.9 L839.0,363.8 L845.3,365.6 L851.6,365.4 L857.9,366.4 L864.2,367.9 L870.5,367.9 L876.9,366.4 L883.2,362.5 L889.5,362.7 L895.8,364.9 L902.1,362.1 L908.4,356.8 L914.7,354.1 L921.0,352.2 L927.4,350.8 L933.7,348.0 L940.0,342.4 L946.3,340.0 L952.6,338.8 L958.9,335.3 L965.2,330.3 L971.5,324.9 L977.8,320.8 L984.2,317.1 L990.5,313.5 L996.8,310.8 L1003.1,308.3 L1009.4,306.6 L1015.7,304.4 L1022.0,301.1 L1028.3,298.1 L1034.7,299.2 L1041.0,300.1 L1047.3,300.3 L1053.6,300.1 L1059.9,300.9 L1066.2,305.2 L1072.5,310.9 L1078.8,300.1" stroke="#f0b90b" stroke-width="1.05" fill="none"/><rect x="3.50" y="529.7" width="4.6" height="10.3" fill="#2ebd85"/>
<rect x="9.81" y="532.8" width="4.6" height="7.2" fill="#2ebd85"/>
<rect x="16.12" y="532.0" width="4.6" height="8.0" fill="#2ebd85"/>
<rect x="22.44" y="534.0" width="4.6" height="6.0" fill="#f6465d"/>
<rect x="28.75" y="534.2" width="4.6" height="5.8" fill="#2ebd85"/>
<rect x="35.06" y="535.7" width="4.6" height="4.3" fill="#2ebd85"/>
<rect x="41.37" y="531.1" width="4.6" height="8.9" fill="#f6465d"/>
<rect x="47.68" y="530.9" width="4.6" height="9.1" fill="#2ebd85"/>
<rect x="54.00" y="534.8" width="4.6" height="5.2" fill="#f6465d"/>
<rect x="60.31" y="535.7" width="4.6" height="4.3" fill="#f6465d"/>
<rect x="66.62" y="535.4" width="4.6" height="4.6" fill="#2ebd85"/>
<rect x="72.93" y="535.1" width="4.6" height="4.9" fill="#f6465d"/>
<rect x="79.24" y="530.2" width="4.6" height="9.8" fill="#2ebd85"/>
<rect x="85.56" y="523.1" width="4.6" height="16.9" fill="#f6465d"/>
<rect x="91.87" y="526.3" width="4.6" height="13.7" fill="#f6465d"/>
<rect x="98.18" y="533.5" width="4.6" height="6.5" fill="#2ebd85"/>
<rect x="104.49" y="534.8" width="4.6" height="5.2" fill="#2ebd85"/>
<rect x="110.80" y="527.1" width="4.6" height="12.9" fill="#2ebd85"/>
<rect x="117.12" y="532.5" width="4.6" height="7.5" fill="#f6465d"/>
<rect x="123.43" y="532.8" width="4.6" height="7.2" fill="#2ebd85"/>
<rect x="129.74" y="532.8" width="4.6" height="7.2" fill="#2ebd85"/>
<rect x="136.05" y="533.0" width="4.6" height="7.0" fill="#f6465d"/>
<rect x="142.36" y="533.0" width="4.6" height="7.0" fill="#f6465d"/>
<rect x="148.68" y="535.4" width="4.6" height="4.6" fill="#2ebd85"/>
<rect x="154.99" y="533.5" width="4.6" height="6.5" fill="#f6465d"/>
<rect x="161.30" y="534.0" width="4.6" height="6.0" fill="#f6465d"/>
<rect x="167.61" y="535.9" width="4.6" height="4.1" fill="#f6465d"/>
<rect x="173.92" y="535.0" width="4.6" height="5.0" fill="#f6465d"/>
<rect x="180.24" y="535.1" width="4.6" height="4.9" fill="#f6465d"/>
<rect x="186.55" y="530.2" width="4.6" height="9.8" fill="#2ebd85"/>
<rect x="192.86" y="534.5" width="4.6" height="5.5" fill="#2ebd85"/>
<rect x="199.17" y="535.1" width="4.6" height="4.9" fill="#f6465d"/>
<rect x="205.48" y="535.9" width="4.6" height="4.1" fill="#2ebd85"/>
<rect x="211.80" y="535.1" width="4.6" height="4.9" fill="#2ebd85"/>
<rect x="218.11" y="535.9" width="4.6" height="4.1" fill="#f6465d"/>
<rect x="224.42" y="535.9" width="4.6" height="4.1" fill="#2ebd85"/>
<rect x="230.73" y="537.1" width="4.6" height="2.9" fill="#f6465d"/>
<rect x="237.04" y="530.9" width="4.6" height="9.1" fill="#2ebd85"/>
<rect x="243.36" y="536.9" width="4.6" height="3.1" fill="#f6465d"/>
<rect x="249.67" y="537.1" width="4.6" height="2.9" fill="#f6465d"/>
<rect x="255.98" y="536.4" width="4.6" height="3.6" fill="#2ebd85"/>
<rect x="262.29" y="537.4" width="4.6" height="2.6" fill="#f6465d"/>
<rect x="268.60" y="536.9" width="4.6" height="3.1" fill="#2ebd85"/>
<rect x="274.92" y="537.1" width="4.6" height="2.9" fill="#2ebd85"/>
<rect x="281.23" y="537.8" width="4.6" height="2.2" fill="#f6465d"/>
<rect x="287.54" y="538.0" width="4.6" height="2.0" fill="#f6465d"/>
<rect x="293.85" y="538.0" width="4.6" height="2.0" fill="#f6465d"/>
<rect x="300.16" y="538.0" width="4.6" height="2.0" fill="#f6465d"/>
<rect x="306.48" y="537.4" width="4.6" height="2.6" fill="#2ebd85"/>
<rect x="312.79" y="532.1" width="4.6" height="7.9" fill="#f6465d"/>
<rect x="319.10" y="537.4" width="4.6" height="2.6" fill="#2ebd85"/>
<rect x="325.41" y="537.4" width="4.6" height="2.6" fill="#f6465d"/>
<rect x="331.72" y="537.4" width="4.6" height="2.6" fill="#f6465d"/>
<rect x="338.04" y="537.4" width="4.6" height="2.6" fill="#2ebd85"/>
<rect x="344.35" y="537.4" width="4.6" height="2.6" fill="#2ebd85"/>
<rect x="350.66" y="507.0" width="4.6" height="33.0" fill="#f6465d"/>
<rect x="356.97" y="534.8" width="4.6" height="5.2" fill="#2ebd85"/>
<rect x="363.28" y="532.4" width="4.6" height="7.6" fill="#f6465d"/>
<rect x="369.60" y="456.7" width="4.6" height="83.3" fill="#2ebd85"/>
<rect x="375.91" y="490.0" width="4.6" height="50.0" fill="#2ebd85"/>
<rect x="382.22" y="530.0" width="4.6" height="10.0" fill="#f6465d"/>
<rect x="388.53" y="532.9" width="4.6" height="7.1" fill="#2ebd85"/>
<rect x="394.84" y="533.2" width="4.6" height="6.8" fill="#f6465d"/>
<rect x="401.16" y="532.9" width="4.6" height="7.1" fill="#f6465d"/>
<rect x="407.47" y="523.3" width="4.6" height="16.7" fill="#2ebd85"/>
<rect x="413.78" y="497.9" width="4.6" height="42.1" fill="#2ebd85"/>
<rect x="420.09" y="526.9" width="4.6" height="13.1" fill="#2ebd85"/>
<rect x="426.40" y="529.1" width="4.6" height="10.9" fill="#2ebd85"/>
<rect x="432.72" y="533.9" width="4.6" height="6.1" fill="#2ebd85"/>
<rect x="439.03" y="530.3" width="4.6" height="9.7" fill="#f6465d"/>
<rect x="445.34" y="535.1" width="4.6" height="4.9" fill="#f6465d"/>
<rect x="451.65" y="531.3" width="4.6" height="8.7" fill="#2ebd85"/>
<rect x="457.96" y="534.8" width="4.6" height="5.2" fill="#2ebd85"/>
<rect x="464.28" y="535.1" width="4.6" height="4.9" fill="#2ebd85"/>
<rect x="470.59" y="535.3" width="4.6" height="4.7" fill="#2ebd85"/>
<rect x="476.90" y="535.8" width="4.6" height="4.2" fill="#f6465d"/>
<rect x="483.21" y="495.1" width="4.6" height="44.9" fill="#2ebd85"/>
<rect x="489.52" y="530.0" width="4.6" height="10.0" fill="#f6465d"/>
<rect x="495.84" y="534.2" width="4.6" height="5.8" fill="#f6465d"/>
<rect x="502.15" y="532.9" width="4.6" height="7.1" fill="#f6465d"/>
<rect x="508.46" y="529.1" width="4.6" height="10.9" fill="#f6465d"/>
<rect x="514.77" y="535.1" width="4.6" height="4.9" fill="#2ebd85"/>
<rect x="521.08" y="533.2" width="4.6" height="6.8" fill="#f6465d"/>
<rect x="527.40" y="534.8" width="4.6" height="5.2" fill="#f6465d"/>
<rect x="533.71" y="532.4" width="4.6" height="7.6" fill="#2ebd85"/>
<rect x="540.02" y="535.1" width="4.6" height="4.9" fill="#f6465d"/>
<rect x="546.33" y="531.9" width="4.6" height="8.1" fill="#2ebd85"/>
<rect x="552.64" y="535.1" width="4.6" height="4.9" fill="#2ebd85"/>
<rect x="558.96" y="535.1" width="4.6" height="4.9" fill="#2ebd85"/>
<rect x="565.27" y="535.8" width="4.6" height="4.2" fill="#2ebd85"/>
<rect x="571.58" y="535.1" width="4.6" height="4.9" fill="#f6465d"/>
<rect x="577.89" y="535.2" width="4.6" height="4.8" fill="#f6465d"/>
<rect x="584.20" y="535.3" width="4.6" height="4.7" fill="#2ebd85"/>
<rect x="590.52" y="536.3" width="4.6" height="3.7" fill="#f6465d"/>
<rect x="596.83" y="536.3" width="4.6" height="3.7" fill="#f6465d"/>
<rect x="603.14" y="536.3" width="4.6" height="3.7" fill="#2ebd85"/>
<rect x="609.45" y="537.1" width="4.6" height="2.9" fill="#f6465d"/>
<rect x="615.76" y="536.9" width="4.6" height="3.1" fill="#2ebd85"/>
<rect x="622.08" y="533.0" width="4.6" height="7.0" fill="#f6465d"/>
<rect x="628.39" y="536.9" width="4.6" height="3.1" fill="#2ebd85"/>
<rect x="634.70" y="537.1" width="4.6" height="2.9" fill="#2ebd85"/>
<rect x="641.01" y="537.1" width="4.6" height="2.9" fill="#2ebd85"/>
<rect x="647.32" y="537.3" width="4.6" height="2.7" fill="#f6465d"/>
<rect x="653.64" y="537.1" width="4.6" height="2.9" fill="#2ebd85"/>
<rect x="659.95" y="537.1" width="4.6" height="2.9" fill="#2ebd85"/>
<rect x="666.26" y="537.3" width="4.6" height="2.7" fill="#f6465d"/>
<rect x="672.57" y="537.3" width="4.6" height="2.7" fill="#2ebd85"/>
<rect x="678.88" y="537.6" width="4.6" height="2.4" fill="#f6465d"/>
<rect x="685.20" y="537.6" width="4.6" height="2.4" fill="#f6465d"/>
<rect x="691.51" y="536.9" width="4.6" height="3.1" fill="#f6465d"/>
<rect x="697.82" y="534.0" width="4.6" height="6.0" fill="#2ebd85"/>
<rect x="704.13" y="536.9" width="4.6" height="3.1" fill="#2ebd85"/>
<rect x="710.44" y="534.2" width="4.6" height="5.8" fill="#2ebd85"/>
<rect x="716.76" y="536.6" width="4.6" height="3.4" fill="#f6465d"/>
<rect x="723.07" y="536.9" width="4.6" height="3.1" fill="#f6465d"/>
<rect x="729.38" y="533.7" width="4.6" height="6.3" fill="#f6465d"/>
<rect x="735.69" y="537.1" width="4.6" height="2.9" fill="#2ebd85"/>
<rect x="742.00" y="537.1" width="4.6" height="2.9" fill="#2ebd85"/>
<rect x="748.32" y="537.6" width="4.6" height="2.4" fill="#f6465d"/>
<rect x="754.63" y="537.1" width="4.6" height="2.9" fill="#2ebd85"/>
<rect x="760.94" y="537.1" width="4.6" height="2.9" fill="#2ebd85"/>
<rect x="767.25" y="537.6" width="4.6" height="2.4" fill="#f6465d"/>
<rect x="773.56" y="533.7" width="4.6" height="6.3" fill="#f6465d"/>
<rect x="779.88" y="537.6" width="4.6" height="2.4" fill="#f6465d"/>
<rect x="786.19" y="538.0" width="4.6" height="2.0" fill="#f6465d"/>
<rect x="792.50" y="537.6" width="4.6" height="2.4" fill="#2ebd85"/>
<rect x="798.81" y="537.6" width="4.6" height="2.4" fill="#2ebd85"/>
<rect x="805.12" y="537.6" width="4.6" height="2.4" fill="#f6465d"/>
<rect x="811.44" y="537.4" width="4.6" height="2.6" fill="#2ebd85"/>
<rect x="817.75" y="537.8" width="4.6" height="2.2" fill="#f6465d"/>
<rect x="824.06" y="535.7" width="4.6" height="4.3" fill="#f6465d"/>
<rect x="830.37" y="537.6" width="4.6" height="2.4" fill="#f6465d"/>
<rect x="836.68" y="537.1" width="4.6" height="2.9" fill="#f6465d"/>
<rect x="843.00" y="533.3" width="4.6" height="6.7" fill="#2ebd85"/>
<rect x="849.31" y="537.4" width="4.6" height="2.6" fill="#2ebd85"/>
<rect x="855.62" y="537.1" width="4.6" height="2.9" fill="#f6465d"/>
<rect x="861.93" y="536.7" width="4.6" height="3.3" fill="#f6465d"/>
<rect x="868.24" y="534.3" width="4.6" height="5.7" fill="#2ebd85"/>
<rect x="874.56" y="537.1" width="4.6" height="2.9" fill="#2ebd85"/>
<rect x="880.87" y="537.1" width="4.6" height="2.9" fill="#2ebd85"/>
<rect x="887.18" y="530.1" width="4.6" height="9.9" fill="#f6465d"/>
<rect x="893.49" y="533.3" width="4.6" height="6.7" fill="#f6465d"/>
<rect x="899.80" y="522.5" width="4.6" height="17.5" fill="#2ebd85"/>
<rect x="906.12" y="518.9" width="4.6" height="21.1" fill="#2ebd85"/>
<rect x="912.43" y="534.9" width="4.6" height="5.1" fill="#f6465d"/>
<rect x="918.74" y="535.9" width="4.6" height="4.1" fill="#f6465d"/>
<rect x="925.05" y="535.5" width="4.6" height="4.5" fill="#2ebd85"/>
<rect x="931.36" y="525.9" width="4.6" height="14.1" fill="#2ebd85"/>
<rect x="937.68" y="525.9" width="4.6" height="14.1" fill="#2ebd85"/>
<rect x="943.99" y="534.6" width="4.6" height="5.4" fill="#2ebd85"/>
<rect x="950.30" y="532.8" width="4.6" height="7.2" fill="#2ebd85"/>
<rect x="956.61" y="531.9" width="4.6" height="8.1" fill="#2ebd85"/>
<rect x="962.92" y="520.8" width="4.6" height="19.2" fill="#2ebd85"/>
<rect x="969.24" y="532.8" width="4.6" height="7.2" fill="#2ebd85"/>
<rect x="975.55" y="535.9" width="4.6" height="4.1" fill="#f6465d"/>
<rect x="981.86" y="535.5" width="4.6" height="4.5" fill="#2ebd85"/>
<rect x="988.17" y="535.2" width="4.6" height="4.8" fill="#2ebd85"/>
<rect x="994.48" y="534.9" width="4.6" height="5.1" fill="#f6465d"/>
<rect x="1000.80" y="535.2" width="4.6" height="4.8" fill="#f6465d"/>
<rect x="1007.11" y="536.7" width="4.6" height="3.3" fill="#2ebd85"/>
<rect x="1013.42" y="534.0" width="4.6" height="6.0" fill="#2ebd85"/>
<rect x="1019.73" y="535.9" width="4.6" height="4.1" fill="#2ebd85"/>
<rect x="1026.04" y="523.0" width="4.6" height="17.0" fill="#2ebd85"/>
<rect x="1032.36" y="530.1" width="4.6" height="9.9" fill="#f6465d"/>
<rect x="1038.67" y="535.1" width="4.6" height="4.9" fill="#f6465d"/>
<rect x="1044.98" y="535.0" width="4.6" height="5.0" fill="#2ebd85"/>
<rect x="1051.29" y="535.8" width="4.6" height="4.2" fill="#2ebd85"/>
<rect x="1057.60" y="535.8" width="4.6" height="4.2" fill="#2ebd85"/>
<rect x="1063.92" y="535.5" width="4.6" height="4.5" fill="#f6465d"/>
<rect x="1070.23" y="535.5" width="4.6" height="4.5" fill="#f6465d"/>
<rect x="1076.54" y="509.1" width="4.6" height="30.9" fill="#2ebd85"/>
<path d="M2.0,524.9 L14.9,528.7 L25.0,531.6 L38.4,532.8 L52.8,533.8 L67.2,534.5 L76.8,534.2 L82.5,533.0 L86.4,531.6 L96.0,530.9 L105.6,530.6 L115.0,529.7 L124.6,529.2 L134.2,530.6 L143.8,531.6 L153.4,532.6 L163.0,533.0 L172.6,534.0 L182.2,534.8 L191.8,534.0 L201.4,533.5 L211.0,534.5 L220.6,535.1 L235.0,536.1 L258.8,535.6 L287.6,536.3 L316.4,536.3 L345.0,534.8 L353.6,531.3 L365.2,530.3 L372.8,518.5 L378.6,512.8 L390.1,510.8 L397.8,515.2 L409.3,514.0 L422.7,525.5 L445.8,525.7 L454.4,526.7 L460.2,532.0 L467.7,532.9 L479.2,534.3 L485.0,529.1 L491.7,528.1 L503.2,528.1 L509.9,526.7 L523.3,526.2 L529.1,532.6 L536.8,533.9 L556.0,533.9 L570.4,534.3 L580.0,535.3 L632.6,536.1 L695.0,536.6 L805.0,536.3 L881.8,536.0 L896.2,533.3 L907.7,530.4 L920.0,530.9 L929.6,530.1 L939.2,528.2 L948.8,530.4 L958.4,530.1 L966.1,528.8 L973.7,528.5 L982.4,531.4 L996.8,533.0 L1009.3,535.9 L1021.7,535.7 L1030.4,533.8 L1040.0,533.0 L1050.6,532.3 L1066.4,532.6 L1074.0,534.7 L1078.7,532.0" stroke="#5fbfdc" stroke-width="1.5" fill="none" stroke-linejoin="round"/>
<path d="M2.0,522.0 L14.9,522.5 L28.8,523.0 L36.5,524.4 L43.2,527.8 L52.8,529.7 L67.2,532.3 L76.8,532.8 L86.4,532.6 L96.0,532.3 L105.6,532.0 L115.0,531.6 L134.2,531.1 L143.8,531.3 L155.3,530.6 L164.9,530.6 L174.5,531.6 L184.1,532.6 L193.7,532.6 L203.3,533.0 L212.9,533.5 L222.5,534.0 L235.0,534.5 L258.8,534.8 L287.6,535.7 L316.4,535.7 L345.0,536.1 L353.6,533.4 L365.2,532.9 L372.8,527.6 L378.6,523.8 L402.6,523.3 L410.3,521.9 L417.0,519.2 L434.3,518.0 L441.0,520.0 L453.4,520.7 L460.2,525.7 L467.7,528.6 L479.2,530.0 L485.0,527.1 L491.7,526.2 L498.4,527.1 L505.1,530.3 L527.2,531.0 L546.4,530.7 L567.5,530.3 L573.2,533.4 L580.0,534.3 L599.0,533.2 L623.0,534.0 L651.8,534.7 L666.2,535.2 L695.0,535.3 L805.0,535.9 L881.8,535.9 L896.2,534.8 L907.7,532.6 L925.0,532.8 L939.2,531.9 L958.4,530.7 L968.0,529.5 L982.4,530.1 L996.8,532.1 L1016.0,532.8 L1030.0,532.6 L1047.6,533.2 L1056.4,534.4 L1071.1,533.8 L1078.7,532.3" stroke="#e0436c" stroke-width="1.5" fill="none" stroke-linejoin="round"/></svg>
<div class="t" style="left:1180.6px;top:187.97px;font-size:11px;color:#b7bdc6;">0.010000</div>
<div class="t" style="left:1180.6px;top:281.57px;font-size:11px;color:#b7bdc6;">0.008000</div>
<div class="t" style="left:1180.6px;top:328.37px;font-size:11px;color:#b7bdc6;">0.007000</div>
<div class="t" style="left:1180.6px;top:375.17px;font-size:11px;color:#b7bdc6;">0.006000</div>
<div style="position:absolute;left:1173px;top:223px;width:61px;height:23px;background:#2ebd85;border-radius:4px"></div>
<div class="t" style="left:1181.7px;top:230.77px;font-size:11px;color:#fff;">0.009131</div>
<div class="t" style="left:1180.6px;top:492.07px;font-size:11px;color:#b7bdc6;">500M</div>
<div class="t" style="left:431.8px;top:192.57px;font-size:11px;color:#eaecef;transform:scaleX(0.86);transform-origin:0 0">0.009861</div>
<div style="position:absolute;left:474px;top:198.3px;width:12px;height:1px;background:#eaecef"></div>
<div class="t" style="left:305.6px;top:416.57px;font-size:11px;color:#eaecef;transform:scaleX(0.86);transform-origin:0 0">0.005138</div>
<div style="position:absolute;left:347px;top:422px;width:12px;height:1px;background:#eaecef"></div>
<svg style="position:absolute;left:17.8px;top:159.8px" width="8" height="5" viewBox="0 0 8 5"><path d="M1 1l3 3 3-3" stroke="#b7bdc6" stroke-width="1.5" fill="none"/></svg>
<div class="t" style="left:31.3px;top:155.87px;font-size:11px;color:#848e9c;">2025/07/30</div>
<div class="t" style="left:95.2px;top:155.87px;font-size:11px;color:#848e9c;">Open:</div>
<div class="t" style="left:133.3px;top:155.87px;font-size:11px;color:#2ebd85;">0.007169</div>
<div class="t" style="left:185.8px;top:155.87px;font-size:11px;color:#848e9c;">High:</div>
<div class="t" style="left:219.8px;top:155.87px;font-size:11px;color:#2ebd85;">0.009259</div>
<div class="t" style="left:272.6px;top:155.87px;font-size:11px;color:#848e9c;">Low:</div>
<div class="t" style="left:303.6px;top:155.87px;font-size:11px;color:#2ebd85;">0.007001</div>
<div class="t" style="left:356.6px;top:155.87px;font-size:11px;color:#848e9c;">Close:</div>
<div class="t" style="left:395.4px;top:155.87px;font-size:11px;color:#2ebd85;">0.009131</div>
<div class="t" style="left:447.8px;top:155.87px;font-size:11px;color:#848e9c;">CHANGE:</div>
<div class="t" style="left:503.8px;top:155.87px;font-size:11px;color:#2ebd85;">27.27%</div>
<div class="t" style="left:547px;top:155.87px;font-size:11px;color:#848e9c;">AMPLITUDE:</div>
<div class="t" style="left:619.4px;top:155.87px;font-size:11px;color:#2ebd85;">31.47%</div>
<svg style="position:absolute;left:17.8px;top:185.8px" width="8" height="5" viewBox="0 0 8 5"><path d="M1 1l3 3 3-3" stroke="#b7bdc6" stroke-width="1.5" fill="none"/></svg>
<div class="t" style="left:31.3px;top:182.17px;font-size:11px;color:#848e9c;">MA(7):</div>
<div class="t" style="left:72.6px;top:182.17px;font-size:11px;color:#f0b90b;">0.007731</div>
<div class="t" style="left:124.6px;top:182.17px;font-size:11px;color:#848e9c;">MA(25):</div>
<div class="t" style="left:172px;top:182.17px;font-size:11px;color:#e44bc0;">0.007525</div>
<div class="t" style="left:223.6px;top:182.17px;font-size:11px;color:#848e9c;">MA(99):</div>
<div class="t" style="left:270.7px;top:182.17px;font-size:11px;color:#b385f8;">0.007316</div>
<svg style="position:absolute;left:18px;top:462px" width="8" height="5" viewBox="0 0 8 5"><path d="M1 1l3 3 3-3" stroke="#b7bdc6" stroke-width="1.5" fill="none"/></svg>
<div class="t" style="left:31.2px;top:457.87px;font-size:11px;color:#848e9c;">Vol(QKC):</div>
<div class="t" style="left:87.7px;top:457.87px;font-size:11px;color:#eaecef;">353.209M</div>
<div class="t" style="left:144px;top:457.87px;font-size:11px;color:#848e9c;">Vol(USDT)</div>
<div class="t" style="left:203px;top:457.87px;font-size:11px;color:#eaecef;">2.878M</div>
<div class="t" style="left:247px;top:457.87px;font-size:11px;color:#5fbfdc;">87.697M</div>
<div class="t" style="left:296.6px;top:457.87px;font-size:11px;color:#e0436c;">80.942M</div>
<div style="position:absolute;left:4.3px;top:500.4px;width:8.6px;height:29px;border:1px solid #2b3139;border-radius:4.5px;background:#181a20"></div>
<svg style="position:absolute;left:7.5px;top:513px" width="5" height="6.5" viewBox="0 0 5 6.5"><path d="M1 0.8l2.4 2.4L1 5.6" stroke="#6b7280" stroke-width="1.4" fill="none"/></svg>
<div style="position:absolute;left:1079.3px;top:418px;width:18.5px;height:19.6px;border:1px solid #2b3139;border-radius:5px;background:#181a20"></div>
<div style="position:absolute;left:1088px;top:423px;width:8.5px;height:11px;background:#b7bdc6;border-radius:1px"></div>
<div style="position:absolute;left:1090px;top:426px;width:4px;height:1.2px;background:#181a20"></div><div style="position:absolute;left:1090px;top:429px;width:4px;height:1.2px;background:#181a20"></div>
<div style="position:absolute;left:1084.5px;top:427px;width:2.5px;height:7px;background:#f0b90b"></div>
<div style="position:absolute;left:1096px;top:413.7px;width:8.6px;height:8.6px;background:#fcd535;border-radius:50%"></div>
<div class="t" style="left:111.55px;top:559.57px;font-size:11px;color:#b7bdc6;">03/01</div>
<div class="t" style="left:306.95px;top:559.57px;font-size:11px;color:#b7bdc6;">04/01</div>
<div class="t" style="left:496.85px;top:559.57px;font-size:11px;color:#b7bdc6;">05/01</div>
<div class="t" style="left:692.05px;top:559.57px;font-size:11px;color:#b7bdc6;">06/01</div>
<div class="t" style="left:882.25px;top:559.57px;font-size:11px;color:#b7bdc6;">07/01</div>
<div class="t" style="left:1077.75px;top:559.57px;font-size:11px;color:#b7bdc6;">08/01</div>
<svg style="position:absolute;left:1204px;top:557.5px" width="13" height="13" viewBox="0 0 13 13" fill="#9aa1ac"><rect x="0.2" y="0.4" width="11.8" height="1.9"/><rect x="0.2" y="10.5" width="11.8" height="1.9"/><rect x="5.4" y="2.3" width="1.4" height="8.2"/><path d="M6.1 2.3L9.3 5.7H2.9z M6.1 10.5L9.3 7.1H2.9z"/></svg>
<div class="panel" style="left:2px;top:584px;width:1246px;height:60px"></div>
<div class="t" style="left:17.5px;top:598.38px;font-size:14px;color:#eaecef;-webkit-text-stroke:0.3px #eaecef;letter-spacing:-0.35px">Open Orders(0)</div>
<div class="t" style="left:125.3px;top:598.38px;font-size:14px;color:#848e9c;-webkit-text-stroke:0.3px #848e9c;letter-spacing:-0.35px">Order History</div>
<div class="t" style="left:221.8px;top:598.38px;font-size:14px;color:#848e9c;-webkit-text-stroke:0.3px #848e9c;letter-spacing:-0.35px">Trade History</div>
<div class="t" style="left:318.2px;top:598.38px;font-size:14px;color:#848e9c;-webkit-text-stroke:0.3px #848e9c;letter-spacing:-0.35px">Funds</div>
<div class="t" style="left:370.3px;top:598.38px;font-size:14px;color:#848e9c;-webkit-text-stroke:0.3px #848e9c;letter-spacing:-0.35px">Bots</div>
<div style="position:absolute;left:48px;top:622px;width:15px;height:3px;background:#fcd535"></div>
<div style="position:absolute;left:2px;top:625px;width:1246px;height:1px;background:#2b3139"></div>
</body></html>
